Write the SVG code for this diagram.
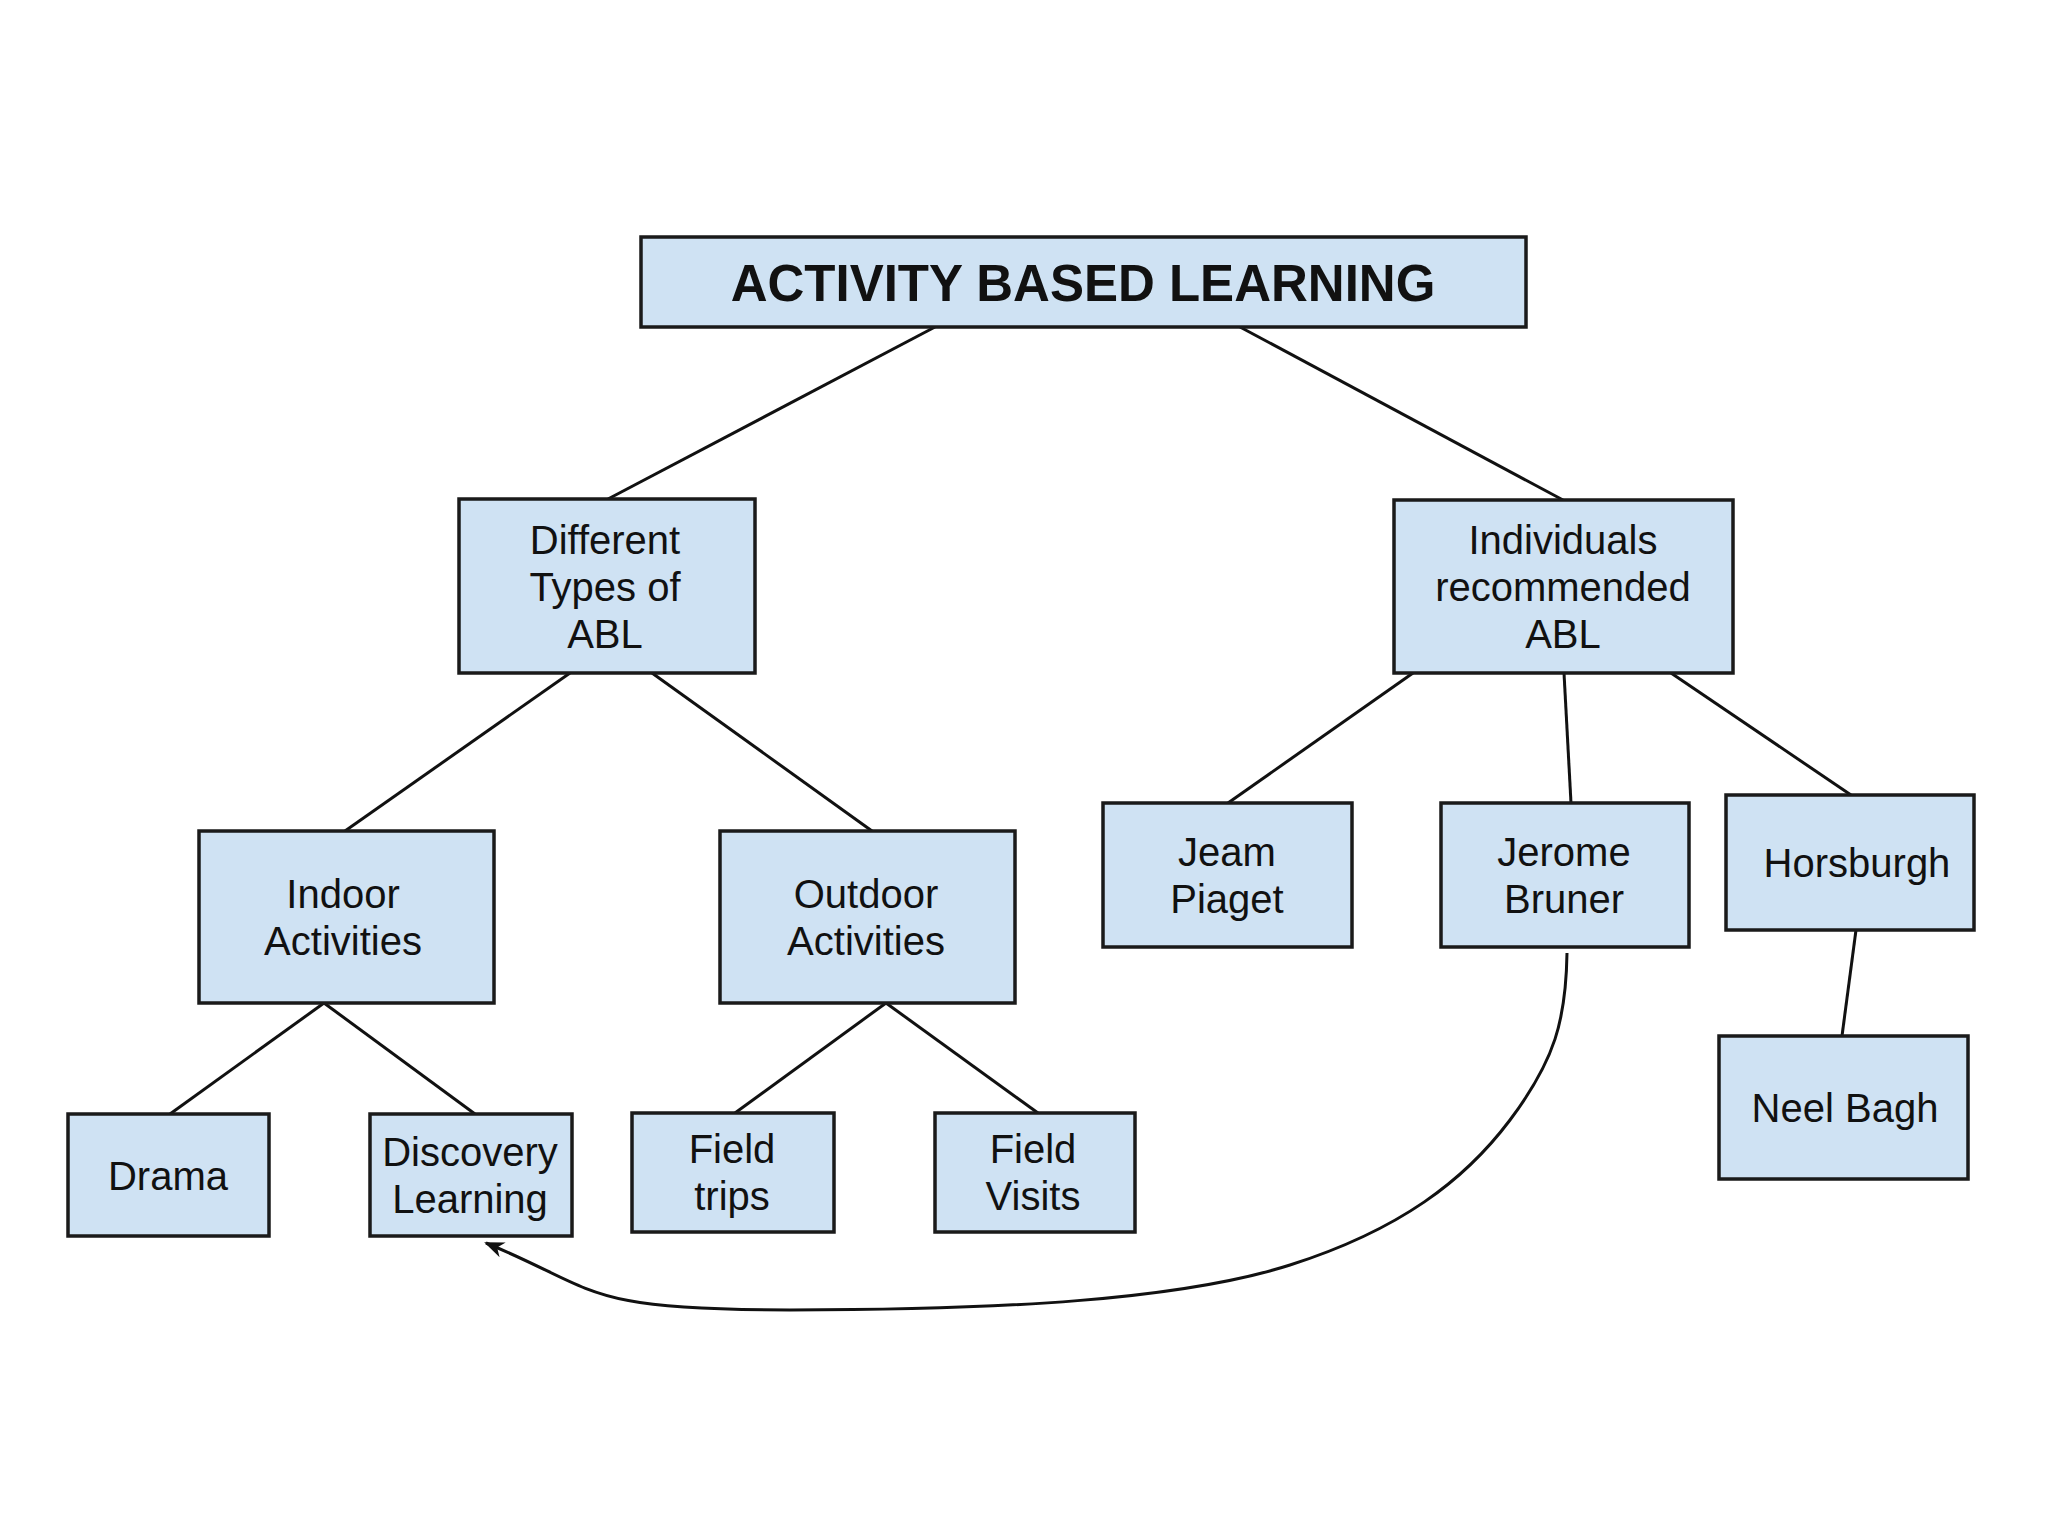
<svg xmlns="http://www.w3.org/2000/svg" width="2048" height="1536" viewBox="0 0 2048 1536">
<style>
.box{fill:#cfe2f3;stroke:#1a1a1a;stroke-width:3.5}
.t{font-family:"Liberation Sans",Arial,sans-serif;font-size:40px;fill:#111;text-anchor:middle}
.title{font-family:"Liberation Sans",Arial,sans-serif;font-size:51px;font-weight:bold;fill:#111;text-anchor:middle}
.ln{stroke:#111;stroke-width:3;fill:none}
</style>
<defs>
<marker id="arr" viewBox="0 0 20 20" refX="18" refY="10" markerWidth="20" markerHeight="20" markerUnits="userSpaceOnUse" orient="auto">
<path d="M0,2 L20,10 L0,18 L6,10 Z" fill="#111"/>
</marker>
</defs>
<rect width="2048" height="1536" fill="#fff"/>
<g id="connectors">
<line class="ln" x1="935" y1="327" x2="608" y2="499"/>
<line class="ln" x1="1240" y1="327" x2="1563" y2="500"/>
<line class="ln" x1="570" y1="673" x2="345" y2="831"/>
<line class="ln" x1="652" y1="673" x2="872" y2="831"/>
<line class="ln" x1="1413" y1="673" x2="1228" y2="803"/>
<line class="ln" x1="1564" y1="673" x2="1571" y2="803"/>
<line class="ln" x1="1671" y1="673" x2="1851" y2="795"/>
<line class="ln" x1="1856" y1="930" x2="1842" y2="1036"/>
<line class="ln" x1="324" y1="1003" x2="170" y2="1114"/>
<line class="ln" x1="324" y1="1003" x2="475" y2="1114"/>
<line class="ln" x1="886" y1="1003" x2="735" y2="1113"/>
<line class="ln" x1="886" y1="1003" x2="1038" y2="1113"/>
<path class="ln" d="M1567,953 C1566,1020 1555,1060 1510,1120 S1400,1230 1290,1265 S1000,1310 790,1310 S600,1290 486,1243" marker-end="url(#arr)"/>
</g>
<g id="title"><rect class="box" x="641" y="237" width="885" height="90"/><text class="title" x="1083" y="301">ACTIVITY BASED LEARNING</text></g>
<g id="types"><rect class="box" x="459" y="499" width="296" height="174"/><text class="t" x="605" y="554">Different</text><text class="t" x="605" y="601">Types of</text><text class="t" x="605" y="648">ABL</text></g>
<g id="individuals"><rect class="box" x="1394" y="500" width="339" height="173"/><text class="t" x="1563" y="554">Individuals</text><text class="t" x="1563" y="601">recommended</text><text class="t" x="1563" y="648">ABL</text></g>
<g id="indoor"><rect class="box" x="199" y="831" width="295" height="172"/><text class="t" x="343" y="908">Indoor</text><text class="t" x="343" y="955">Activities</text></g>
<g id="outdoor"><rect class="box" x="720" y="831" width="295" height="172"/><text class="t" x="866" y="908">Outdoor</text><text class="t" x="866" y="955">Activities</text></g>
<g id="piaget"><rect class="box" x="1103" y="803" width="249" height="144"/><text class="t" x="1227" y="866">Jeam</text><text class="t" x="1227" y="913">Piaget</text></g>
<g id="bruner"><rect class="box" x="1441" y="803" width="248" height="144"/><text class="t" x="1564" y="866">Jerome</text><text class="t" x="1564" y="913">Bruner</text></g>
<g id="horsburgh"><rect class="box" x="1726" y="795" width="248" height="135"/><text class="t" x="1857" y="877">Horsburgh</text></g>
<g id="neelbagh"><rect class="box" x="1719" y="1036" width="249" height="143"/><text class="t" x="1845" y="1122">Neel Bagh</text></g>
<g id="drama"><rect class="box" x="68" y="1114" width="201" height="122"/><text class="t" x="168" y="1190">Drama</text></g>
<g id="discovery"><rect class="box" x="370" y="1114" width="202" height="122"/><text class="t" x="470" y="1166">Discovery</text><text class="t" x="470" y="1213">Learning</text></g>
<g id="fieldtrips"><rect class="box" x="632" y="1113" width="202" height="119"/><text class="t" x="732" y="1163">Field</text><text class="t" x="732" y="1210">trips</text></g>
<g id="fieldvisits"><rect class="box" x="935" y="1113" width="200" height="119"/><text class="t" x="1033" y="1163">Field</text><text class="t" x="1033" y="1210">Visits</text></g>
</svg>
